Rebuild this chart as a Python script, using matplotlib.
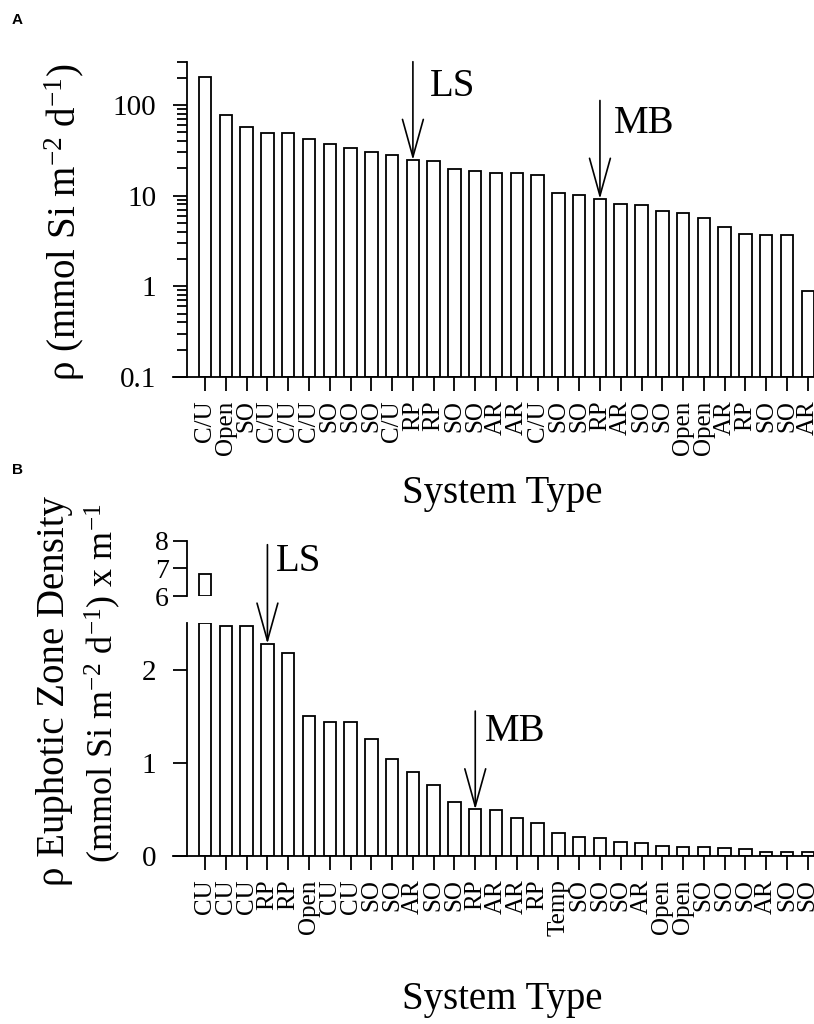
import matplotlib
matplotlib.use("Agg")
import matplotlib.pyplot as plt
from matplotlib.lines import Line2D
import numpy as np

plt.rcParams['font.family'] = ['Liberation Serif', 'DejaVu Serif']
plt.rcParams['mathtext.fontset'] = 'custom'
plt.rcParams['mathtext.rm'] = 'Liberation Serif'
plt.rcParams['mathtext.it'] = 'Liberation Serif:italic'

# panel A: areal rate, log scale
types_a = ["C/U", "Open", "SO", "C/U", "C/U", "C/U", "SO", "SO", "SO", "C/U",
           "RP", "RP", "SO", "SO", "AR", "AR", "C/U", "SO", "SO", "RP",
           "AR", "SO", "SO", "Open", "Open", "AR", "RP", "SO", "SO", "AR"]
rho_a = [205, 78, 56.6, 49, 49, 42, 36.7, 33.8, 30.3, 27.8,
         24.7, 23.7, 19.5, 18.4, 17.8, 17.6, 17.0, 10.6, 10.0, 9.2,
         7.9, 7.7, 6.6, 6.3, 5.6, 4.4, 3.7, 3.55, 3.55, 0.79]

# panel B: euphotic zone density
types_b = ["CU", "CU", "CU", "RP", "RP", "Open", "CU", "CU", "SO", "SO",
           "AR", "SO", "SO", "RP", "AR", "AR", "RP", "Temp", "SO", "SO",
           "SO", "AR", "Open", "Open", "SO", "SO", "SO", "AR", "SO", "SO"]
rho_b = [6.8, 2.47, 2.47, 2.28, 2.18, 1.50, 1.435, 1.435, 1.26, 1.04,
         0.90, 0.76, 0.58, 0.50, 0.496, 0.41, 0.35, 0.245, 0.20, 0.19,
         0.155, 0.137, 0.11, 0.10, 0.10, 0.083, 0.075, 0.046, 0.046, 0.046]

marks_a = {"LS": 10, "MB": 19}
marks_b = {"LS": 3, "MB": 13}

W, H = 814, 1024
fig = plt.figure(figsize=(W / 100, H / 100), dpi=100)

left = 187 / W
width = 1 - left
ax_a = fig.add_axes([left, 1 - 377 / H, width, (377 - 61.7) / H])
ax_b = fig.add_axes([left, 1 - 856 / H, width, (856 - 623.3) / H])
ax_bt = fig.add_axes([left, 1 - 596 / H, width, (596 - 540.7) / H])
ax_bt.patch.set_visible(False)

bar_kw = dict(width=0.6, color="white", edgecolor="black", linewidth=1.3)
xlim = (-0.87, 29.3)
arrow_kw = dict(arrowstyle="->,head_length=27,head_width=7.5", mutation_scale=1,
                lw=1.2, color="black", shrinkA=0, shrinkB=0)


def style(ax):
    for s in ["top", "right"]:
        ax.spines[s].set_visible(False)
    for s in ["left", "bottom"]:
        ax.spines[s].set_linewidth(1.3)
    ax.tick_params(axis="both", which="major", direction="out", width=1.3, length=10)
    ax.tick_params(axis="y", which="major", labelsize=21, pad=12)
    ax.tick_params(axis="x", labelsize=18, pad=7)
    ax.set_xlim(*xlim)
    # bottom axis line runs out past the left spine
    ax.add_line(Line2D([-14 / 627, 0], [0, 0], transform=ax.transAxes,
                       color="black", lw=1.3, clip_on=False))


x = np.arange(len(rho_a))

# ---- A
ax_a.bar(x, rho_a, bottom=0.1, **bar_kw)
ax_a.set_yscale("log")
ax_a.set_ylim(0.1, 300)
style(ax_a)
ax_a.set_yticks([0.1, 1, 10, 100])
ax_a.set_yticklabels(["0.1", "1", "10", "100"])
ax_a.tick_params(axis="y", which="minor", length=7, width=1.3)
ax_a.set_xticks(x)
ax_a.set_xticklabels(types_a, rotation=90)

tails_a = {"LS": 300, "MB": 112}
offs_a = {"LS": (12, -18), "MB": (10, -16.5)}
for name, i in marks_a.items():
    tail = tails_a[name]
    ax_a.annotate("", xy=(i, rho_a[i]), xytext=(i, tail),
                  arrowprops=arrow_kw, annotation_clip=False)
    ax_a.annotate(name, xy=(i, tail), xytext=offs_a[name], textcoords="offset points",
                  fontsize=28, va="center", ha="left", annotation_clip=False)

# ---- B lower
xb = np.arange(len(rho_b))
low = np.minimum(rho_b, 2.5)
ax_b.bar(xb, low, **bar_kw)
ax_b.set_ylim(0, 2.5)
style(ax_b)
ax_b.set_yticks([0, 1, 2])
ax_b.set_xticks(xb)
ax_b.set_xticklabels(types_b, rotation=90)

# ---- B upper (broken axis)
hi = np.array(rho_b)
big = hi > 6
ax_bt.bar(xb[big], hi[big] - 6, bottom=6, **bar_kw)
ax_bt.set_ylim(6, 8)
ax_bt.set_xlim(*xlim)
for s in ["top", "right", "bottom"]:
    ax_bt.spines[s].set_visible(False)
ax_bt.spines["left"].set_linewidth(1.3)
ax_bt.set_yticks([6, 7, 8])
ax_bt.tick_params(axis="y", direction="out", width=1.3, length=10, labelsize=20, pad=3)
ax_bt.set_xticks([])

tails_b = {"LS": 2.5 + (623.3 - 545) / 92.7, "MB": (856 - 711.7) / 92.7}
offs_b = {"LS": (6, -12), "MB": (7, -14.5)}
for name, i in marks_b.items():
    tail = tails_b[name]
    ax_b.annotate("", xy=(i, rho_b[i]), xytext=(i, tail),
                  arrowprops=arrow_kw, annotation_clip=False)
    ax_b.annotate(name, xy=(i, tail), xytext=offs_b[name], textcoords="offset points",
                  fontsize=28, va="center", ha="left", annotation_clip=False)

# ---- labels
fig.text(65 / W, 1 - 222 / H, r"ρ (mmol Si m$^{-2}$ d$^{-1}$)", rotation=90,
         fontsize=28, ha="center", va="center")
fig.text(55 / W, 1 - 691 / H, "ρ Euphotic Zone Density", rotation=90,
         fontsize=28, ha="center", va="center")
fig.text(103 / W, 1 - 683 / H, r"(mmol Si m$^{-2}$ d$^{-1}$) x m$^{-1}$", rotation=90,
         fontsize=26, ha="center", va="center")
fig.text(502 / W, 1 - 493 / H, "System Type", fontsize=28, ha="center", va="center")
fig.text(502 / W, 1 - 1000 / H, "System Type", fontsize=28, ha="center", va="center")

fig.text(12 / W, 1 - 20 / H, "A", family="Liberation Sans", weight="bold",
         fontsize=11, ha="left", va="center")
fig.text(12 / W, 1 - 470 / H, "B", family="Liberation Sans", weight="bold",
         fontsize=11, ha="left", va="center")

fig.savefig("out.png", dpi=100)
